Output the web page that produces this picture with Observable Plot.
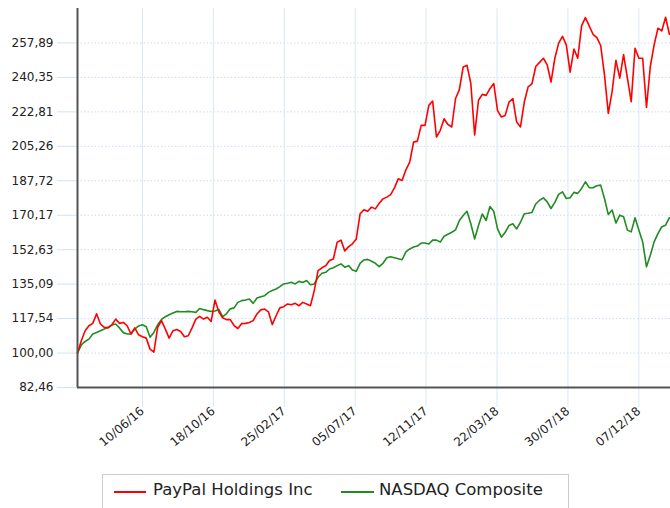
<!DOCTYPE html>
<html><head><meta charset="utf-8">
<script src="https://cdn.jsdelivr.net/npm/d3@7"></script>
<script src="https://cdn.jsdelivr.net/npm/@observablehq/plot@0.6"></script>
<style>
body{margin:0;background:#fff;font-family:"DejaVu Sans",Verdana,sans-serif;}
#wrap{position:relative;width:670px;height:508px;overflow:hidden;background:#fff;}
#chart{position:absolute;left:0;top:0;}
#legend{position:absolute;left:102px;top:474px;width:467px;height:50px;border:1px solid #ccc;box-sizing:border-box;}
.sw{position:absolute;height:2px;top:16px;}
.lt{position:absolute;top:5px;font-size:16.5px;color:#222;white-space:nowrap;}
</style></head>
<body><div id="wrap"><div id="chart"></div>
<div id="legend">
<div class="sw" style="left:11px;width:32px;background:#ff0000"></div><div class="lt" style="left:50px">PayPal Holdings Inc</div>
<div class="sw" style="left:238px;width:33px;background:#228b22"></div><div class="lt" style="left:276px">NASDAQ Composite</div>
</div></div>
<script>
const seriesNames = ["PayPal Holdings Inc", "NASDAQ Composite"];
const startDate = "2016-02-12";
const endDate = "2019-02-03";
// weekly closes (Fridays), rebased to 100
const paypal = [100,106.3,111.4,113.9,115.1,120,114.8,113.1,112.8,114.4,117.3,115.1,115.6,113.9,109.7,112.8,109.3,108.3,107.6,102,
100.5,113.1,116.5,112.2,107.6,111.4,112.0,111.0,108.3,108.8,112.8,117.3,118.7,117.3,118.2,116.1,127,121,118,117,
117,114,112.5,115,115.1,115.6,116.5,119.9,122,122.4,121,114.5,119.0,123.0,123.6,125.0,124.6,125.3,124.1,125.8,
125.0,124.1,131.8,142.0,143.4,144.5,147.1,147.9,156.4,157.5,152,154.2,155.6,158.1,170.9,172.9,172.2,174.3,173.4,176.3,
178.5,179.4,180.7,184.1,188.7,187.9,193.3,197.2,207.4,207.9,215.9,215.9,226.1,228.3,210,213.4,219.3,216.4,215.1,229.6,
234.1,245.7,246.5,237.2,211,228.7,231.7,231.2,234.6,237.2,223.4,220.2,221.0,227.8,229.6,217.6,215.1,227.8,235.5,237,
245.9,248.0,250.1,246.7,238,250.1,257.8,261.2,256.9,243,254.8,250.1,266.6,270.8,266.6,262.3,260.6,256.6,241.6,222,
233.2,249,240.0,252,240.0,228,255.2,250.1,250.1,225,245.9,256.9,265.4,264.0,271,262.3];
const nasdaq = [100,104.2,105.9,107.1,109.7,110.5,111.4,112.2,113.1,114.3,114.8,112.8,110.4,109.7,109.7,112.2,113.8,114.4,113.4,108,
110.5,114.4,117.1,118.5,119.5,120.4,121.2,121.0,121.0,121.2,121.0,120.7,122.7,122.1,121.6,121.2,121.4,122.2,118.5,120,
122.5,123,125.8,126.7,127.0,127.5,125.3,128.0,128.7,129.2,130.9,131.8,132.6,133.8,135.2,135.5,136.0,135.2,136.5,135.9,
136.9,134.8,135.2,138.6,140.6,141.1,142.8,143.4,144.5,145.4,143.7,144.5,142.3,141.6,145.7,147.4,147.7,146.7,145.7,144.0,
145.7,148.5,149,148.5,148,147.5,151.5,153,154,154.5,156,156,155.5,157.5,157.5,156.5,159.5,160.5,161.5,162.7,
167.5,170.0,172.2,165.8,158.1,164.9,170.8,167.5,174.6,172.2,163.2,159.0,161.5,164.9,165.8,163.2,166.6,170.9,171.2,171.6,
175.9,177.8,179.0,177.0,173.6,176.7,180.8,182.1,178.7,179.1,181.8,181.3,183.8,187.2,184.2,184.2,185.2,185.5,178.7,170.5,
172.8,166.2,170.2,169.4,162.6,161.7,168.9,162.6,156.6,143.9,149.8,156.6,160.8,164.3,165.1,168.9];
const yTicks = [82.46,100,117.54,135.09,152.63,170.17,187.72,205.26,222.81,240.35,257.89];
const yTop = 275.43;
const xTickLabels = ["10/06/16","18/10/16","25/02/17","05/07/17","12/11/17","22/03/18","30/07/18","07/12/18"];

const parseDMY = d3.utcParse("%d/%m/%y");
const xTicks = xTickLabels.map(parseDMY);
const dates = d3.utcDay.range(new Date(startDate), new Date("2019-02-02"), 7);
const ppData = paypal.map((v, i) => ({date: dates[i], value: v}));
const nqData = nasdaq.map((v, i) => ({date: dates[i], value: v}));
const x0 = new Date(startDate), x1 = new Date(endDate);

const chart = Plot.plot({
  width: 670, height: 460,
  marginLeft: 77, marginRight: 0, marginTop: 8, marginBottom: 73,
  style: {fontFamily: "'DejaVu Sans', Verdana, sans-serif", fontSize: "12px", color: "#222", background: "white", overflow: "visible"},
  x: {type: "utc", domain: [x0, x1]},
  y: {domain: [yTicks[0], yTop]},
  marks: [
    Plot.gridY(yTicks.slice(1), {stroke: "#c9dcf2", strokeOpacity: 1, strokeDasharray: "1.5,2"}),
    Plot.gridX(xTicks, {stroke: "#dbe7f5", strokeOpacity: 1}),
    Plot.axisY(yTicks, {tickSize: 20, tickPadding: 4, stroke: "#d3e2f4", strokeOpacity: 1, fill: "#222",
      tickFormat: d => d.toFixed(2).replace(".", ","), fontSize: 12, label: null}),
    Plot.axisX(xTicks, {tickSize: 20, tickPadding: 2, tickRotate: -40, stroke: "#dbe7f5", strokeOpacity: 1, fill: "#222",
      tickFormat: d3.utcFormat("%d/%m/%y"), fontSize: 12, label: null}),
    Plot.lineY(nqData, {x: "date", y: "value", stroke: "#228b22", strokeWidth: 1.6}),
    Plot.lineY(ppData, {x: "date", y: "value", stroke: "#ff0000", strokeWidth: 1.6}),
    Plot.ruleX([x0], {stroke: "#555", strokeWidth: 2}),
    Plot.ruleY([yTicks[0]], {stroke: "#555", strokeWidth: 2})
  ]
});
document.getElementById("chart").appendChild(chart);
</script></body></html>
